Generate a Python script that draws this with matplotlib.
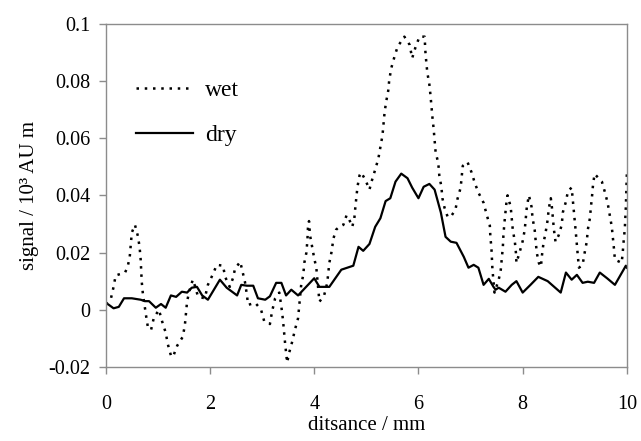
import matplotlib
matplotlib.use('Agg')
import matplotlib.pyplot as plt

plt.rcParams['font.family'] = ['Liberation Serif', 'DejaVu Serif']
plt.rcParams['axes.unicode_minus'] = False

# wet profile (dotted)
wet_x = [0.0, 0.1, 0.15, 0.19, 0.37, 0.42, 0.46, 0.48, 0.5, 0.56, 0.62, 0.65, 0.67, 0.69, 0.71,
         0.77, 0.81, 0.87, 0.92, 1.02, 1.08, 1.15, 1.19, 1.25, 1.29, 1.37, 1.48, 1.52, 1.56, 1.6,
         1.67, 1.71, 1.77, 1.9, 1.96, 2.06, 2.13, 2.25, 2.29, 2.38, 2.44, 2.48, 2.58, 2.63, 2.67,
         2.71, 2.73, 2.87, 2.98, 3.04, 3.15, 3.19, 3.25, 3.33, 3.37, 3.4, 3.42, 3.44, 3.46, 3.48,
         3.52, 3.58, 3.63, 3.69, 3.71, 3.75, 3.79, 3.81, 3.85, 3.87, 3.88, 3.9, 3.92, 3.96, 4.0,
         4.04, 4.08, 4.1, 4.19, 4.25, 4.29, 4.33, 4.37, 4.42, 4.48, 4.56, 4.62, 4.65, 4.73, 4.77,
         4.79, 4.81, 4.83, 4.87, 4.9, 4.98, 5.06, 5.1, 5.17, 5.23, 5.27, 5.31, 5.33, 5.35, 5.38,
         5.42, 5.44, 5.48, 5.54, 5.6, 5.73, 5.83, 5.88, 5.94, 6.02, 6.12, 6.13, 6.15, 6.17, 6.21,
         6.23, 6.25, 6.27, 6.29, 6.31, 6.33, 6.38, 6.4, 6.44, 6.46, 6.5, 6.56, 6.62, 6.71, 6.75,
         6.81, 6.83, 6.85, 6.94, 7.02, 7.08, 7.15, 7.25, 7.31, 7.37, 7.38, 7.4, 7.41, 7.42, 7.46,
         7.54, 7.58, 7.6, 7.62, 7.63, 7.65, 7.67, 7.69, 7.71, 7.77, 7.79, 7.81, 7.85, 7.87, 7.88,
         7.94, 8.0, 8.04, 8.06, 8.08, 8.12, 8.17, 8.19, 8.23, 8.25, 8.27, 8.31, 8.35, 8.37, 8.4,
         8.44, 8.48, 8.5, 8.54, 8.56, 8.58, 8.6, 8.63, 8.69, 8.75, 8.77, 8.83, 8.87, 8.94, 8.96,
         8.98, 9.0, 9.02, 9.04, 9.06, 9.08, 9.15, 9.19, 9.23, 9.25, 9.29, 9.31, 9.33, 9.35, 9.38,
         9.52, 9.58, 9.63, 9.67, 9.71, 9.73, 9.75, 9.77, 9.9, 9.92, 9.94, 9.96, 9.98, 10.0]
wet_y = [0.002, 0.004, 0.008, 0.012, 0.013, 0.015, 0.0185, 0.0227, 0.027, 0.0297, 0.0255, 0.0217, 0.0175, 0.0098, 0.006,
         -0.0017, -0.0063, -0.007, -0.003, 0.0, -0.004, -0.008, -0.012, -0.016, -0.0165, -0.0126, -0.0094, -0.005, 0.0028, 0.0063,
         0.0105, 0.0084, 0.0046, 0.004, 0.0087, 0.0126, 0.0157, 0.0154, 0.0115, 0.008, 0.011, 0.0143, 0.0168, 0.013, 0.0098,
         0.005, 0.0017, 0.0024, 0.0, -0.004, -0.005, -0.0007, 0.004, 0.006, 0.001, -0.0035, -0.0077, -0.0115, -0.015, -0.0185,
         -0.015, -0.011, -0.007, -0.003, 0.001, 0.0087, 0.0122, 0.0164, 0.02, 0.0245, 0.0287, 0.031, 0.026, 0.022, 0.018,
         0.0147, 0.007, 0.0028, 0.005, 0.0094, 0.0164, 0.02, 0.025, 0.028, 0.029, 0.0297, 0.033, 0.0325, 0.029, 0.032,
         0.036, 0.0395, 0.043, 0.047, 0.048, 0.0455, 0.042, 0.0448, 0.049, 0.0528, 0.057, 0.061, 0.065, 0.069, 0.0727,
         0.0766, 0.0804, 0.0846, 0.0885, 0.092, 0.0955, 0.0927, 0.088, 0.0916, 0.0955, 0.0955, 0.091, 0.0867, 0.083, 0.0787,
         0.0752, 0.071, 0.067, 0.0636, 0.0594, 0.055, 0.0514, 0.047, 0.043, 0.039, 0.0357, 0.0325, 0.0325, 0.035, 0.0388,
         0.0427, 0.0465, 0.0503, 0.0517, 0.048, 0.0444, 0.041, 0.0374, 0.0332, 0.0294, 0.0255, 0.0217, 0.0175, 0.014, 0.006,
         0.0105, 0.014, 0.018, 0.022, 0.0259, 0.0304, 0.034, 0.0378, 0.04, 0.036, 0.032, 0.028, 0.0238, 0.02, 0.0164,
         0.02, 0.024, 0.028, 0.032, 0.036, 0.04, 0.036, 0.032, 0.028, 0.0238, 0.02, 0.0164, 0.015, 0.019, 0.0234,
         0.027, 0.0315, 0.0353, 0.039, 0.036, 0.032, 0.028, 0.0238, 0.026, 0.0297, 0.034, 0.0378, 0.0416, 0.0427, 0.0388,
         0.0346, 0.031, 0.027, 0.0227, 0.0185, 0.0147, 0.0157, 0.02, 0.0238, 0.028, 0.032, 0.036, 0.0395, 0.0437, 0.0475,
         0.0448, 0.041, 0.0374, 0.0332, 0.029, 0.0255, 0.0217, 0.0175, 0.0164, 0.02, 0.0245, 0.0283, 0.036, 0.048]

# dry profile (solid)
dry_x = [0.0, 0.06, 0.15, 0.25, 0.35, 0.5, 0.67, 0.75, 0.83, 0.96, 1.06, 1.15, 1.25, 1.35, 1.46,
         1.56, 1.65, 1.75, 1.85, 1.96, 2.19, 2.32, 2.52, 2.6, 2.71, 2.83, 2.92, 3.06, 3.15, 3.27,
         3.37, 3.46, 3.56, 3.69, 4.0, 4.1, 4.29, 4.52, 4.75, 4.85, 4.94, 5.06, 5.17, 5.27, 5.37,
         5.46, 5.56, 5.67, 5.79, 5.88, 6.0, 6.1, 6.21, 6.31, 6.43, 6.52, 6.62, 6.73, 6.87, 6.96,
         7.06, 7.15, 7.25, 7.35, 7.44, 7.48, 7.54, 7.67, 7.79, 7.88, 8.0, 8.15, 8.3, 8.48, 8.73,
         8.83, 8.94, 9.04, 9.15, 9.25, 9.37, 9.48, 9.62, 9.77, 9.98, 10.0]
dry_y = [0.0024, 0.0017, 0.0005, 0.001, 0.004, 0.004, 0.0035, 0.003, 0.003, 0.0007, 0.002, 0.0007, 0.005, 0.0045, 0.0063,
         0.006, 0.0077, 0.008, 0.005, 0.0035, 0.0105, 0.0077, 0.005, 0.0087, 0.0084, 0.0084, 0.004, 0.0035, 0.0047, 0.0094,
         0.0094, 0.005, 0.007, 0.005, 0.011, 0.008, 0.008, 0.014, 0.0154, 0.022, 0.0206, 0.023, 0.029, 0.032, 0.038,
         0.039, 0.0448, 0.0476, 0.046, 0.0427, 0.039, 0.043, 0.044, 0.042, 0.034, 0.0255, 0.0238, 0.0234, 0.0185, 0.0147,
         0.0157, 0.0147, 0.0087, 0.0108, 0.008, 0.007, 0.0077, 0.0063, 0.0087, 0.01, 0.006, 0.0087, 0.0115, 0.01, 0.006,
         0.013, 0.0105, 0.0122, 0.0094, 0.0098, 0.0094, 0.013, 0.011, 0.0087, 0.0154, 0.0147]

xticks = [0, 2, 4, 6, 8, 10]
yticks = [-0.02, 0, 0.02, 0.04, 0.06, 0.08, 0.1]
ytick_labels = ['-0.02', '0', '0.02', '0.04', '0.06', '0.08', '0.1']

fig = plt.figure(figsize=(6.41, 4.41), dpi=100)
ax = fig.add_axes([0.165, 0.168, 0.813, 0.778])

ax.plot(wet_x, wet_y, color='black', lw=1.8, linestyle=(0, (1, 2.3)), label='wet')
ax.plot(dry_x, dry_y, color='black', lw=1.6, label='dry')

ax.set_xlim(0, 10)
ax.set_ylim(-0.02, 0.1)
ax.set_xticks(xticks)
ax.set_yticks(yticks)
ax.set_yticklabels(ytick_labels)

for s in ax.spines.values():
    s.set_color('#8c8c8c')
    s.set_linewidth(1.0)
ax.tick_params(direction='out', length=5, width=1, color='#8c8c8c', labelsize=14.5)
ax.tick_params(axis='x', pad=15)
ax.tick_params(axis='y', pad=6)

ax.set_xlabel('ditsance / mm', fontsize=15, labelpad=2)
ax.set_ylabel('signal / 10³ AU m', fontsize=15, labelpad=7)

leg = ax.legend(loc='upper left', bbox_to_anchor=(0.018, 0.9), frameon=False, fontsize=17,
                handlelength=2.4, handletextpad=0.5, labelspacing=1.0)

fig.savefig('out.png', dpi=100)
